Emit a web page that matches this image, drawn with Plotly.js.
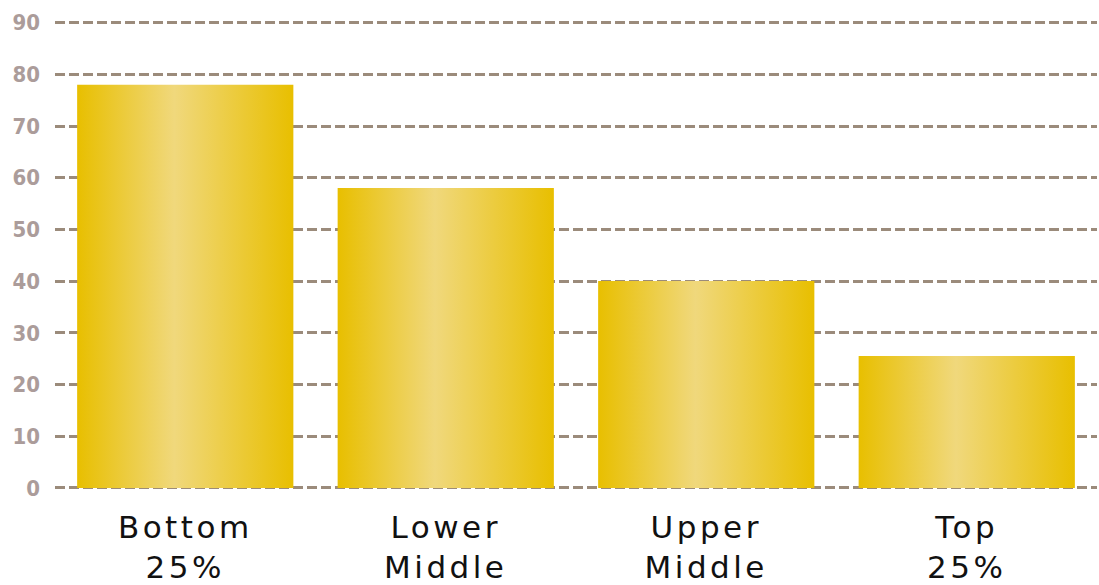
<!DOCTYPE html>
<html>
<head>
<meta charset="utf-8">
<script src="https://cdn.plot.ly/plotly-3.0.1.min.js"></script>
<style>
html,body{margin:0;padding:0;background:#fff;}
#chart{width:1099px;height:585px;}
.xtick text{letter-spacing:3.5px;}
</style>
</head>
<body>
<div id="chart"></div>
<script>
var categories = ["Bottom<br>25%", "Lower<br>Middle", "Upper<br>Middle", "Top<br>25%"];
var values = [78, 58, 40, 25.5];
var yTicks = [0, 10, 20, 30, 40, 50, 60, 70, 80, 90];

var trace = {
  type: 'bar',
  x: categories,
  y: values,
  width: 0.83,
  marker: {color: '#edcc45', line: {width: 0}},
  hoverinfo: 'x+y'
};

var layout = {
  width: 1099,
  height: 585,
  margin: {l: 55, r: 2, t: 20, b: 95},
  paper_bgcolor: '#ffffff',
  plot_bgcolor: '#ffffff',
  showlegend: false,
  xaxis: {
    type: 'category',
    showgrid: false,
    zeroline: false,
    showline: false,
    ticks: '',
    ticklabelstandoff: 16,
    tickfont: {family: 'DejaVu Sans, Verdana, sans-serif', size: 31, color: '#111111'}
  },
  yaxis: {
    range: [-0.4, 90.5],
    tickvals: yTicks,
    ticktext: yTicks.map(String),
    showgrid: true,
    gridcolor: '#9b8b7b',
    gridwidth: 3,
    griddash: '10px,4px',
    zeroline: false,
    showline: false,
    ticks: '',
    ticklabelstandoff: 14,
    tickfont: {family: 'Liberation Sans Narrow, DejaVu Sans Condensed, sans-serif', size: 22, color: '#ab9c9a', weight: 'bold'}
  }
};

Plotly.newPlot('chart', [trace], layout, {displayModeBar: false, staticPlot: true}).then(function(gd){
  var svg = gd.querySelector('svg.main-svg');
  var ns = 'http://www.w3.org/2000/svg';
  var defs = svg.querySelector('defs') || svg.insertBefore(document.createElementNS(ns,'defs'), svg.firstChild);
  var lg = document.createElementNS(ns, 'linearGradient');
  lg.setAttribute('id', 'goldgrad');
  lg.setAttribute('x1', '0'); lg.setAttribute('y1', '0');
  lg.setAttribute('x2', '1'); lg.setAttribute('y2', '0');
  [['0%','#e8bf00'],['45%','#f0d87c'],['100%','#e8bf00']].forEach(function(s){
    var st = document.createElementNS(ns, 'stop');
    st.setAttribute('offset', s[0]);
    st.setAttribute('stop-color', s[1]);
    lg.appendChild(st);
  });
  defs.appendChild(lg);
  gd.querySelectorAll('.barlayer .point path').forEach(function(p){
    p.style.fill = 'url(#goldgrad)';
  });
});
</script>
</body>
</html>
